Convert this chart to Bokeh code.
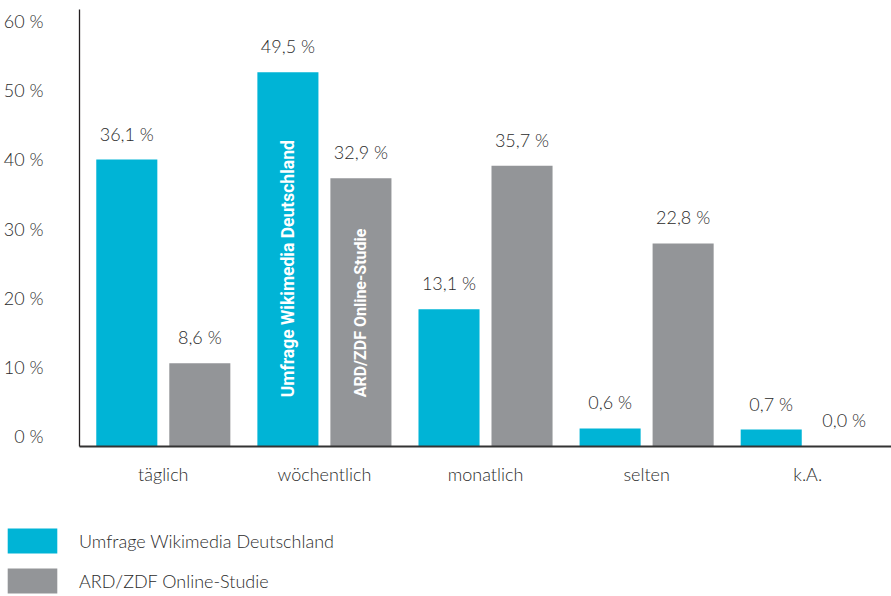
from math import pi
from bokeh.plotting import figure
from bokeh.models import (Range1d, LinearAxis, FixedTicker,
                          ColumnDataSource, Legend, LegendItem)
from bokeh.transform import dodge
from bokeh.core.properties import value
from bokeh.embed import file_html
from bokeh.resources import INLINE

# ---- data -------------------------------------------------------------
categories = ["täglich", "wöchentlich", "monatlich", "selten", "k.A."]
series_names = ["Umfrage Wikimedia Deutschland", "ARD/ZDF Online-Studie"]
# bar heights as drawn in the picture (percent scale of the axis)
wikimedia_heights = [41.4, 54.0, 19.8, 2.6, 2.45]
ard_heights = [12.0, 38.7, 40.5, 29.3, 0.0]
# printed value labels
wikimedia_labels = ["36,1 %", "49,5 %", "13,1 %", "0,6 %", "0,7 %"]
ard_labels = ["8,6 %", "32,9 %", "35,7 %", "22,8 %", "0,0 %"]
y_ticks = [0, 10, 20, 30, 40, 50, 60]
y_tick_labels = ["0 %", "10 %", "20 %", "30 %", "40 %", "50 %", "60 %"]

# ---- style / layout constants ----------------------------------------
CYAN = "#00b4d6"
GRAY = "#939598"
TXT = "#2b2b2b"
FONT = "Lato Light"
FSIZE = "18px"
X_START, X_END = -1.0106, 4.520     # frame covers the whole figure
Y_START, Y_END = -21.65, 64.36
AXIS_X = -0.520                     # where the value axis stands
Y_TOP = 63.1                        # top of the value axis line
LABEL_SHIFT = 1.44                  # tick labels sit slightly above value
OFF = 0.2266                        # dodge of each bar from category centre
BAR_W = 0.379
INBAR_Y = 7.1                       # start of the rotated in-bar labels

p = figure(width=891, height=596,
           x_range=Range1d(X_START, X_END), y_range=Range1d(Y_START, Y_END),
           output_backend="svg", toolbar_location=None,
           x_axis_location=None, y_axis_location=None, min_border=0)
p.outline_line_color = None
p.grid.visible = False

# value axis (labels shifted slightly upward through an extra range)
p.extra_y_ranges = {"lab": Range1d(Y_START - LABEL_SHIFT, Y_END - LABEL_SHIFT)}
yax = LinearAxis(y_range_name="lab", ticker=FixedTicker(ticks=y_ticks),
                 major_label_overrides=dict(zip(y_ticks, y_tick_labels)),
                 fixed_location=AXIS_X,
                 bounds=(-LABEL_SHIFT, Y_TOP - LABEL_SHIFT))
yax.axis_line_color = "#231f20"
yax.axis_line_width = 1.3
yax.major_tick_line_color = None
yax.minor_tick_line_color = None
yax.major_label_standoff = 30
yax.major_label_text_font = FONT
yax.major_label_text_font_size = FSIZE
yax.major_label_text_color = TXT
p.add_layout(yax, "left")

# category axis
cat_pos = list(range(len(categories)))
xax = LinearAxis(ticker=FixedTicker(ticks=cat_pos),
                 major_label_overrides=dict(zip(cat_pos, categories)),
                 fixed_location=0, bounds=(AXIS_X, X_END))
xax.axis_line_color = "#333333"
xax.axis_line_width = 2
xax.major_tick_line_color = None
xax.minor_tick_line_color = None
xax.major_label_standoff = 11
xax.major_label_text_font = FONT
xax.major_label_text_font_size = FSIZE
xax.major_label_text_color = TXT
p.add_layout(xax, "below")

src = ColumnDataSource(dict(x=cat_pos, w=wikimedia_heights, a=ard_heights,
                            wl=wikimedia_labels, al=ard_labels))

r1 = p.vbar(x=dodge("x", -OFF), top="w", width=BAR_W,
            fill_color=CYAN, line_color=None, source=src)
r2 = p.vbar(x=dodge("x", OFF), top="a", width=BAR_W,
            fill_color=GRAY, line_color=None, source=src)

for col_y, col_t, off in (("w", "wl", -OFF), ("a", "al", OFF)):
    p.text(x=dodge("x", off), y=col_y, text=col_t,
           source=src, text_align="center", text_baseline="middle",
           y_offset=-26, text_font=value(FONT), text_font_size=FSIZE,
           text_color=TXT)

inbar = ColumnDataSource(dict(x=[cat_pos[1]], y=[INBAR_Y],
                              t1=[series_names[0]], t2=[series_names[1]]))
for col_t, off, fs in (("t1", -OFF, "17.5px"), ("t2", OFF, "16px")):
    p.text(x=dodge("x", off), y="y", text=col_t,
           source=inbar, angle=pi / 2, text_align="left",
           text_baseline="middle", text_font=value("Roboto"),
           text_font_style="bold", text_font_size=fs, text_color="white")

# ---- legend at the bottom left ----------------------------------------
legend = Legend(items=[LegendItem(label=series_names[0], renderers=[r1]),
                       LegendItem(label=series_names[1], renderers=[r2])],
                location=(1, 0), orientation="vertical",
                glyph_width=62, glyph_height=31, label_height=31,
                label_standoff=16, spacing=9, padding=0, margin=0,
                border_line_color=None, background_fill_alpha=0,
                label_text_font=FONT, label_text_font_size=FSIZE,
                label_text_color=TXT)
p.add_layout(legend)

open("out.html", "w").write(file_html(p, INLINE))
